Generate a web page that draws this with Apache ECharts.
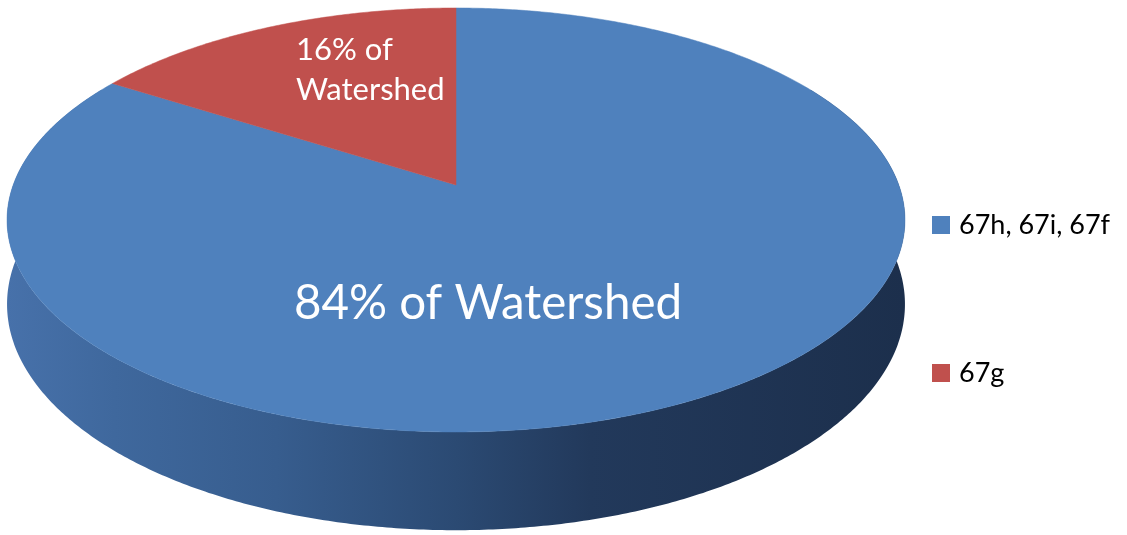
<!DOCTYPE html>
<html><head><meta charset="utf-8">
<script src="https://cdn.jsdelivr.net/npm/echarts@6/dist/echarts.min.js"></script>
<style>html,body{margin:0;padding:0;background:#fff}#c{width:1127px;height:535px}</style>
</head><body><div id="c"></div>
<script>
const categories = ['67h, 67i, 67f', '67g'];
const values = [84, 16];
const labelSuffix = '% of Watershed';

const sliceColors = ['#4f81bd', '#c0504d'];
// perspective projection of the unit disc (angles clockwise from 12 o'clock)
const P = { cx: 456, cy: 185, a: 442.8, d: 175.7, g: 0.165, H: 82 };
function proj(t, r, drop) {
  const rad = t * Math.PI / 180, u = r * Math.sin(rad), v = r * Math.cos(rad), w = 1 + P.g * v;
  return [P.cx + P.a * u / w, (P.cy - P.d * v) / w + drop * P.H / w];
}
function sample(a0, a1, drop) {
  const n = Math.max(2, Math.ceil((a1 - a0) / 0.5)), pts = [];
  for (let j = 0; j <= n; j++) pts.push(proj(a0 + (a1 - a0) * j / n, 1, drop));
  return pts;
}
const total = values.reduce((s, x) => s + x, 0);
function makeRender(i) {
  return function (params, api) {
    let s = 0; for (let k = 0; k < i; k++) s += values[k];
    const t0 = 360 * s / total, t1 = 360 * (s + api.value(0)) / total;
    const children = [];
    const a0 = Math.max(t0, 60), a1 = Math.min(t1, 300);
    if (a1 > a0) {
      const top = sample(a0, a1, 0), bot = sample(a0, a1, 1).reverse();
      children.push({
        type: 'polygon', z2: 0,
        shape: { points: top.concat(bot) },
        style: {
          fill: new echarts.graphic.LinearGradient(0, 0, 1, 0, [
            { offset: 0, color: '#4771aa' },
            { offset: 0.12, color: '#3f689d' },
            { offset: 0.3, color: '#375d8e' },
            { offset: 0.5, color: '#2b4a73' },
            { offset: 0.65, color: '#22395b' },
            { offset: 1, color: '#1c2f4c' }
          ]),
          stroke: null
        }
      });
    }
    const face = [proj(0, 0, 0)].concat(sample(t0, t1, 0));
    children.push({
      type: 'polygon', z2: 10,
      shape: { points: face },
      style: { fill: sliceColors[i], stroke: sliceColors[i], lineWidth: 0.5 }
    });
    return { type: 'group', children };
  };
}

const chart = echarts.init(document.getElementById('c'), null, { renderer: 'canvas' });
chart.setOption({
  animation: false,
  backgroundColor: '#fff',
  color: sliceColors,
  legend: {
    orient: 'vertical', left: 927, top: 205,
    itemWidth: 18, itemHeight: 18, itemGap: 118,
    icon: 'rect',
    data: categories,
    textStyle: { fontFamily: 'Lato', fontSize: 27, color: '#000', lineHeight: 30, padding: [0, 0, 0, 4] }
  },
  series: categories.map((name, i) => ({
    type: 'custom', name, coordinateSystem: 'none',
    itemStyle: { color: sliceColors[i] },
    renderItem: makeRender(i),
    data: [[values[i]]]
  })),
  graphic: [
    { type: 'text', z: 100, x: 488, y: 304,
      style: { text: values[0] + labelSuffix, fill: '#fff', font: '47.5px Lato', align: 'center', verticalAlign: 'middle' } },
    { type: 'text', z: 100, x: 296, y: 70,
      style: { text: values[1] + '% of\nWatershed', fill: '#fff', font: '31px Lato', lineHeight: 40, align: 'left', verticalAlign: 'middle' } }
  ]
});
</script></body></html>
